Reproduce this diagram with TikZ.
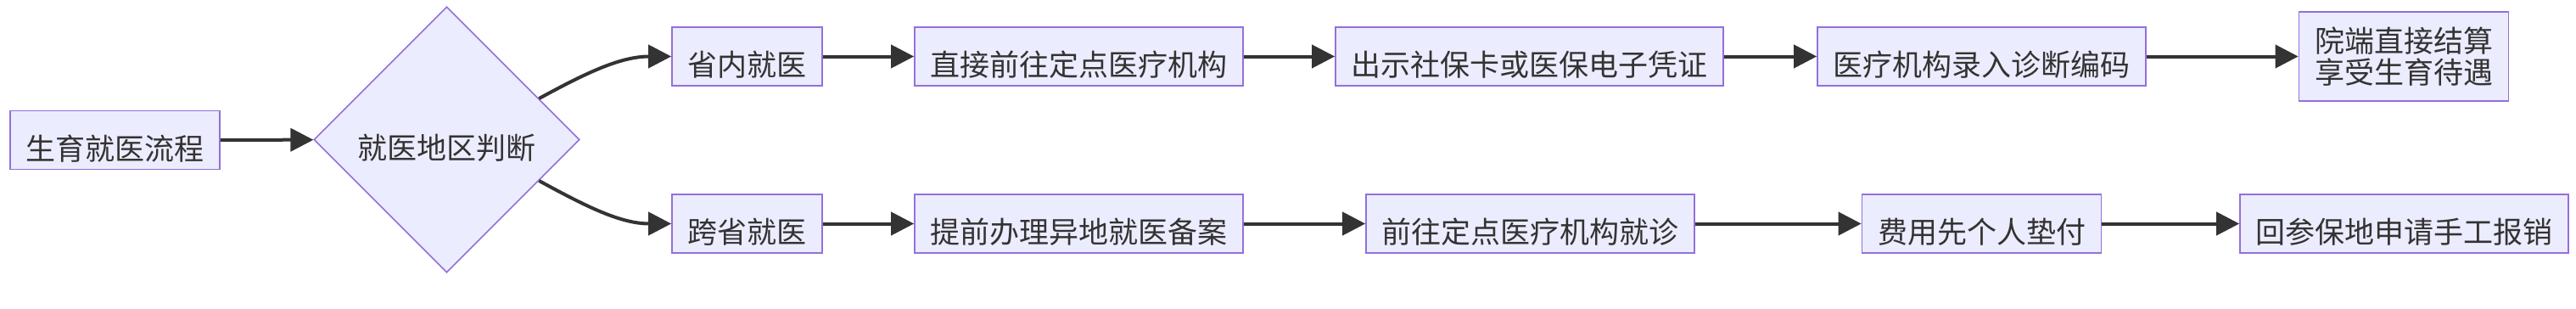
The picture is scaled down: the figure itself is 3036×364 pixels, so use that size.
\documentclass[tikz,border=0pt]{standalone}
\usepackage{fontspec}
\setmainfont{Noto Sans CJK SC}
\usepackage{xcolor}
\usepackage{tikz}
\usetikzlibrary{arrows.meta,shapes.geometric}
\definecolor{boxfill}{HTML}{ECECFF}
\definecolor{boxline}{HTML}{9370DB}
\definecolor{inkgray}{HTML}{333333}

\begin{document}
\begin{tikzpicture}[
  x=0.5pt,y=-0.5pt,
  box/.style={rectangle,draw=boxline,fill=boxfill,line width=0.8pt,text=inkgray,
    inner xsep=9.25pt,minimum height=34.5pt,text height=23.3pt,text depth=0pt,
    font=\fontsize{17.5pt}{18.5pt}\selectfont},
  twoline/.style={box,align=center,minimum height=52.5pt,text height=,text depth=},
  decision/.style={diamond,aspect=1,draw=boxline,fill=boxfill,line width=0.8pt,text=inkgray,
    minimum width=156.5pt,minimum height=156.5pt,inner sep=0pt,
    text height=23.3pt,text depth=0pt,font=\fontsize{17.5pt}{18.5pt}\selectfont},
  arrow/.style={-{Triangle[length=13.5pt,width=13.5pt]},line width=2pt,draw=inkgray}
]
\useasboundingbox (0,0) rectangle (3036,364);

% Nodes
\node[box] (start) at (135.5,165) {生育就医流程};
\node[decision] (region) at (526.5,164.5) {就医地区判断};

\node[box] (local) at (880.5,66.5) {省内就医};
\node[box] (direct) at (1271.5,66.5) {直接前往定点医疗机构};
\node[box] (card) at (1802.5,66.5) {出示社保卡或医保电子凭证};
\node[box] (code) at (2335.5,66.5) {医疗机构录入诊断编码};
\node[twoline] (settle) at (2833,66.5) {院端直接结算\\享受生育待遇};

\node[box] (remote) at (880.5,263.5) {跨省就医};
\node[box] (filing) at (1271.5,263.5) {提前办理异地就医备案};
\node[box] (visit) at (1803.5,263.5) {前往定点医疗机构就诊};
\node[box] (prepay) at (2335.5,263.5) {费用先个人垫付};
\node[box] (refund) at (2833.5,263.5) {回参保地申请手工报销};

% Decision
\draw[arrow] (start) -- (region);
\draw[arrow] (region.24) .. controls +(55,-30) and +(-60,0) .. (local.west);
\draw[arrow] (region.-24) .. controls +(55,30) and +(-60,0) .. (remote.west);

% In-province path
\draw[arrow] (local) -- (direct);
\draw[arrow] (direct) -- (card);
\draw[arrow] (card) -- (code);
\draw[arrow] (code) -- (settle);

% Cross-province path
\draw[arrow] (remote) -- (filing);
\draw[arrow] (filing) -- (visit);
\draw[arrow] (visit) -- (prepay);
\draw[arrow] (prepay) -- (refund);
\end{tikzpicture}
\end{document}
